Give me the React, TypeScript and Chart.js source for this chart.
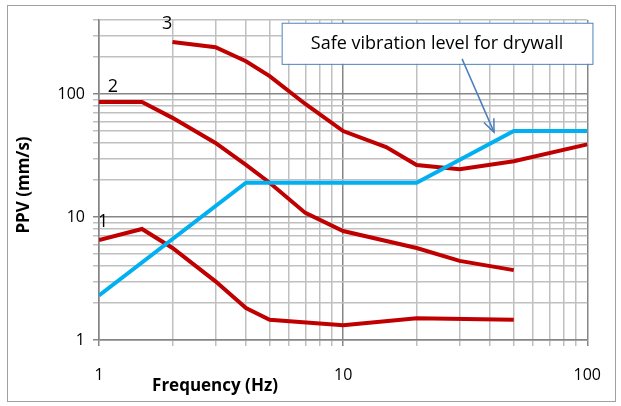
import React, { useEffect, useRef } from "react";
import { Chart, registerables } from "chart.js";
Chart.register(...registerables);

const safeLevel = [{ x: 1, y: 2.3 }, { x: 4, y: 19 }, { x: 20, y: 19 }, { x: 50, y: 50 }, { x: 100, y: 50 }];
const curve1 = [{ x: 1, y: 6.5 }, { x: 1.5, y: 8 }, { x: 2, y: 5.6 }, { x: 3, y: 3 }, { x: 4, y: 1.82 }, { x: 5, y: 1.46 }, { x: 10, y: 1.32 }, { x: 20, y: 1.5 }, { x: 50, y: 1.46 }];
const curve2 = [{ x: 1, y: 86 }, { x: 1.5, y: 86 }, { x: 2, y: 64 }, { x: 3, y: 40 }, { x: 4, y: 26.5 }, { x: 5, y: 19 }, { x: 7, y: 10.8 }, { x: 10, y: 7.7 }, { x: 20, y: 5.6 }, { x: 30, y: 4.4 }, { x: 50, y: 3.7 }];
const curve3 = [{ x: 2, y: 265 }, { x: 3, y: 240 }, { x: 4, y: 185 }, { x: 5, y: 140 }, { x: 7, y: 83 }, { x: 10, y: 50 }, { x: 15, y: 37 }, { x: 20, y: 26.5 }, { x: 30, y: 24.5 }, { x: 50, y: 28.4 }, { x: 100, y: 39 }];
const xTickLabels = [1, 10, 100];
const yTickLabels = [1, 10, 100];
const xGrid = [1, 2, 3, 4, 5, 6, 7, 8, 9, 10, 20, 30, 40, 50, 60, 70, 80, 90, 100];
const yGrid = [1, 2, 3, 4, 5, 6, 7, 8, 9, 10, 20, 30, 40, 50, 60, 70, 80, 90, 100, 200, 300, 400];
const curveLabels = [{ t: "1", x: 1.04, y: 9.2 }, { t: "2", x: 1.14, y: 114 }, { t: "3", x: 1.9, y: 372 }];
const calloutText = "Safe vibration level for drywall";
const xTitle = "Frequency (Hz)";
const yTitle = "PPV (mm/s)";

const FONT = "'Open Sans', 'Liberation Sans', sans-serif";

export default function App() {
  const ref = useRef<HTMLCanvasElement>(null);
  useEffect(() => {
    document.body.style.margin = "0";
    const overlay = {
      id: "overlay",
      afterDraw(chart: any) {
        const c = chart.ctx;
        const xs = chart.scales.x, ys = chart.scales.y;
        const px = (v: number) => xs.getPixelForValue(v);
        const py = (v: number) => ys.getPixelForValue(v);
        c.save();
        c.strokeStyle = "#a0a0a0"; c.lineWidth = 1;
        c.strokeRect(7.5, 5.5, 608, 396);
        c.fillStyle = "#000"; c.font = `18px ${FONT}`; c.textAlign = "center"; c.textBaseline = "middle";
        curveLabels.forEach(l => c.fillText(l.t, px(l.x), py(l.y)));
        c.font = `bold 17px ${FONT}`;
        c.fillText(xTitle, 215, 386);
        c.save(); c.translate(24, 185); c.rotate(-Math.PI / 2); c.fillText(yTitle, 0, 0); c.restore();
        const bx0 = px(5.6), bx1 = px(105), by0 = py(380), by1 = py(176);
        c.fillStyle = "#fff"; c.fillRect(bx0, by0, bx1 - bx0, by1 - by0);
        c.strokeStyle = "#4f81bd"; c.strokeRect(bx0 + 0.5, by0 + 0.5, bx1 - bx0, by1 - by0);
        c.fillStyle = "#000"; c.font = `18px ${FONT}`;
        c.fillText(calloutText, (bx0 + bx1) / 2, (by0 + by1) / 2 + 1);
        const ax0 = px(30.7), ay0 = py(193), ax1 = px(41.5), ay1 = py(49);
        c.strokeStyle = "#4a7ebb"; c.lineWidth = 1.5;
        c.beginPath(); c.moveTo(ax0, ay0); c.lineTo(ax1, ay1); c.stroke();
        const ang = Math.atan2(ay1 - ay0, ax1 - ax0);
        c.beginPath();
        c.moveTo(ax1 - 14 * Math.cos(ang - 0.4), ay1 - 14 * Math.sin(ang - 0.4));
        c.lineTo(ax1, ay1);
        c.lineTo(ax1 - 14 * Math.cos(ang + 0.4), ay1 - 14 * Math.sin(ang + 0.4));
        c.stroke();
        c.restore();
      },
    };
    const ds = (data: any[], color: string) => ({ data, borderColor: color, borderWidth: 4, pointRadius: 0, tension: 0, fill: false });
    const chart = new Chart(ref.current!, {
      type: "line",
      data: { datasets: [ds(safeLevel, "#00b0f0"), ds(curve1, "#c00000"), ds(curve2, "#c00000"), ds(curve3, "#c00000")] },
      options: {
        animation: false, responsive: false,
        layout: { padding: { left: 0, top: 20, right: 20, bottom: 0 } },
        plugins: { legend: { display: false }, tooltip: { enabled: false } },
        scales: {
          x: {
            type: "logarithmic", min: 1, max: 100,
            afterBuildTicks: (s: any) => { s.ticks = xGrid.map(v => ({ value: v })); },
            afterFit: (s: any) => { s.height = 66; },
            ticks: { autoSkip: false, maxRotation: 0, padding: 20, color: "#000", font: { size: 16, family: FONT },
              callback: (v: any) => (xTickLabels.includes(Number(v)) ? String(v) : "") },
            grid: { color: (c: any) => (xTickLabels.includes(c.tick?.value) ? "#868686" : "#c0c0c0"), lineWidth: 1.5, tickLength: 6 },
            border: { color: "#868686", width: 1.5 },
          },
          y: {
            type: "logarithmic", min: 1, max: 400,
            afterBuildTicks: (s: any) => { s.ticks = yGrid.map(v => ({ value: v })); },
            afterFit: (s: any) => { s.width = 99; },
            ticks: { autoSkip: false, padding: 8, color: "#000", font: { size: 16, family: FONT },
              callback: (v: any) => (yTickLabels.includes(Number(v)) ? String(v) : "") },
            grid: { color: (c: any) => (yTickLabels.includes(c.tick?.value) ? "#868686" : "#c0c0c0"), lineWidth: 1.5, tickLength: 6 },
            border: { color: "#868686", width: 1.5 },
          },
        },
      } as any,
      plugins: [overlay],
    });
    return () => chart.destroy();
  }, []);
  return <canvas ref={ref} width={621} height={406} style={{ display: "block" }} />;
}
